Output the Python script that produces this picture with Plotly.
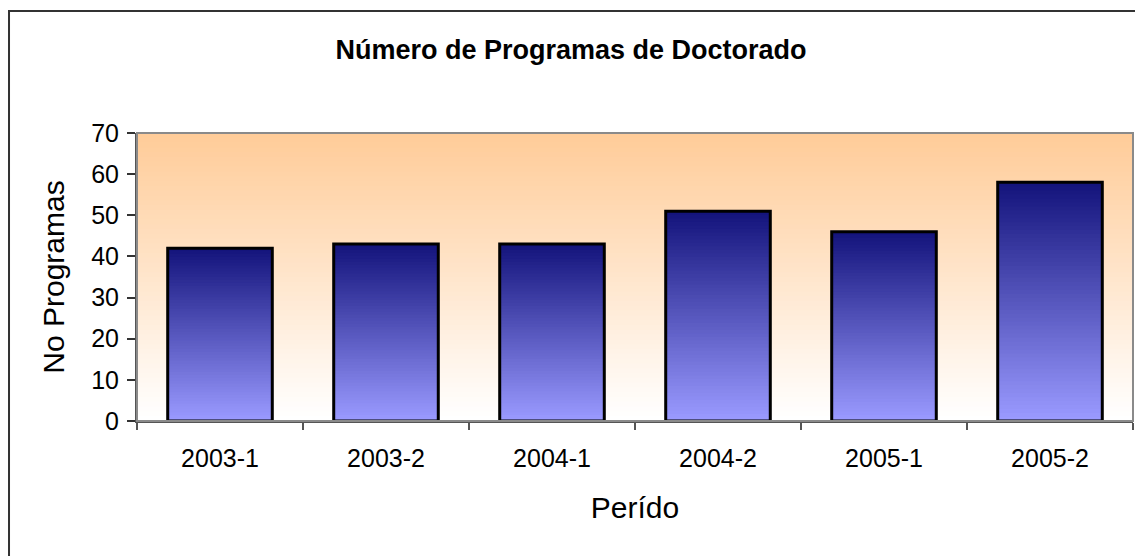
import plotly.graph_objects as go

# datos del gráfico
periodos = ["2003-1", "2003-2", "2004-1", "2004-2", "2005-1", "2005-2"]
programas = [42, 43, 43, 51, 46, 58]
y_ticks = [0, 10, 20, 30, 40, 50, 60, 70]

FONT = "Liberation Sans, Arial, sans-serif"

# la página deja 8 px de margen en el body: la figura se hace 8 px más pequeña
W, H = 1135, 548


def mezcla(c1, c2, t):
    return "rgb(%d,%d,%d)" % tuple(round(a + (b - a) * t) for a, b in zip(c1, c2))


fig = go.Figure()

# degradado de las barras: cada tramo va desde su base hasta la cima de la barra,
# y el siguiente (más oscuro) se pinta encima -> sin costuras
n_tramos = 60
oscuro = (20, 20, 124)
claro = (154, 154, 255)
for k in range(n_tramos):
    t = k / (n_tramos - 1)
    bases = [v * k / n_tramos for v in programas]
    fig.add_trace(go.Bar(
        x=periodos,
        y=[v - b for v, b in zip(programas, bases)],
        base=bases,
        marker=dict(color=mezcla(claro, oscuro, t), line=dict(width=0)),
        hoverinfo="skip",
        showlegend=False,
    ))

# contorno de las barras
fig.add_trace(go.Bar(
    x=periodos,
    y=programas,
    marker=dict(color="rgba(0,0,0,0)", line=dict(color="black", width=3)),
    showlegend=False,
    name="No Programas",
))

# fondo del área de trazado con degradado naranja -> blanco
shapes = []
n_bandas = 60
for k in range(n_bandas):
    t = k / (n_bandas - 1)
    shapes.append(dict(
        type="rect", xref="x domain", yref="y domain",
        x0=0, x1=1, y0=k / n_bandas, y1=1,
        fillcolor=mezcla((255, 255, 255), (255, 204, 153), t),
        line=dict(width=0), layer="below",
    ))
# borde del área de trazado
shapes.append(dict(
    type="rect", xref="x domain", yref="y domain", x0=0, x1=1, y0=0, y1=1,
    line=dict(color="#8a8a8a", width=2), layer="above",
))
# marco exterior del gráfico
shapes.append(dict(
    type="rect", xref="paper", yref="paper",
    x0=-0.1285, x1=1.2, y0=-0.8, y1=1.4236,
    line=dict(color="#333333", width=2), layer="above",
))

fig.update_layout(
    width=W, height=H,
    margin=dict(l=129, r=10, t=125, b=135),
    paper_bgcolor="white",
    plot_bgcolor="white",
    barmode="overlay",
    bargap=0.37,
    shapes=shapes,
    font=dict(family=FONT, size=25, color="black"),
    title=dict(
        text="<b>Número de Programas de Doctorado</b>",
        font=dict(family=FONT, size=27, color="black"),
        x=(571 - 8) / W, xref="container", xanchor="center",
        y=1 - 42 / H, yref="container", yanchor="middle",
    ),
    xaxis=dict(
        type="category",
        title=dict(text="Perído", standoff=26),
        showgrid=False,
        showline=True, linecolor="#555555", linewidth=2,
        ticks="outside", tickson="boundaries", ticklen=7,
        tickcolor="#555555", tickwidth=2,
        ticklabelstandoff=14,
    ),
    yaxis=dict(
        title=dict(text="No Programas", standoff=18),
        range=[0, 70],
        tickvals=y_ticks,
        showgrid=False, zeroline=False,
        showline=True, linecolor="#555555", linewidth=2,
        ticks="outside", ticklen=8, tickcolor="#333333", tickwidth=2,
        ticklabelstandoff=3,
    ),
)

fig.write_html("out.html")
